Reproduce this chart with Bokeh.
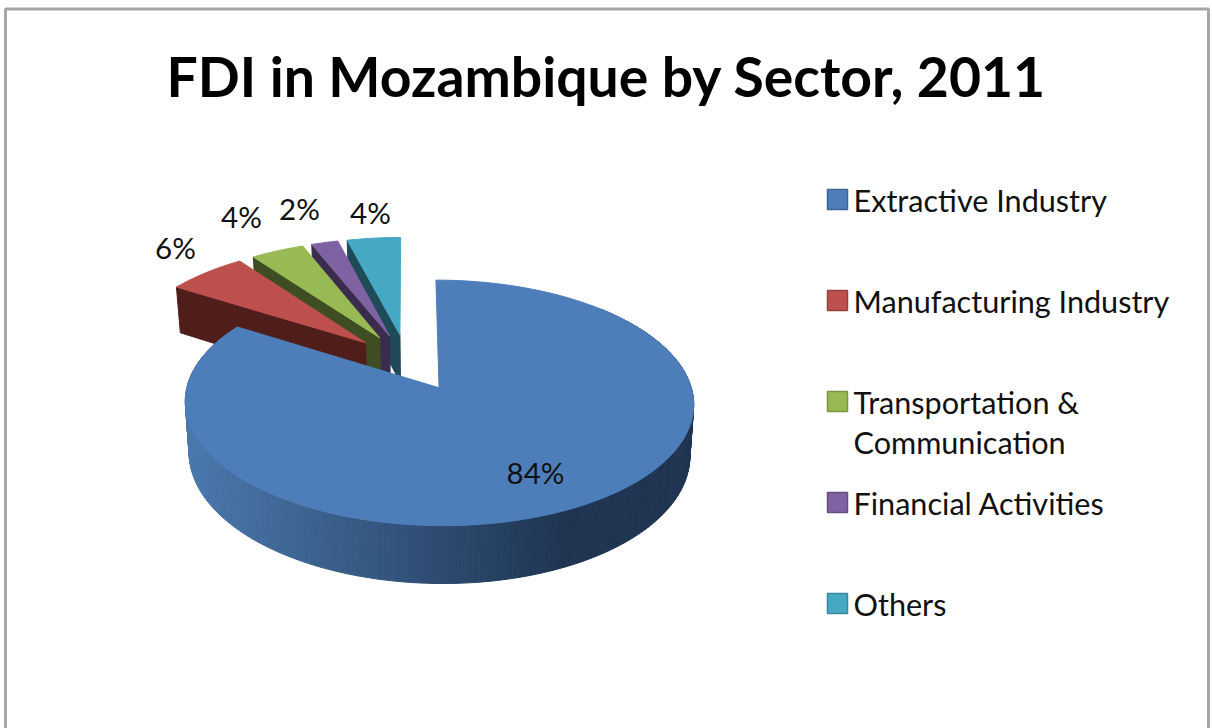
import math
from bokeh.plotting import figure
from bokeh.models import Range1d
from bokeh.embed import file_html
from bokeh.resources import INLINE
from bokeh.core.properties import value

TITLE = "FDI in Mozambique by Sector, 2011"
sectors = ["Extractive Industry", "Manufacturing Industry", "Transportation &\nCommunication",
           "Financial Activities", "Others"]
shares = [84, 6, 4, 2, 4]
top_colors = ["#4e7eba", "#bd504c", "#98ba55", "#7f62a2", "#47a8c4"]
face_colors = ["#1f3552", "#4f1e1b", "#3f4e22", "#392c4c", "#1f4a58"]

# layout (pixels of the page)
OX, OY, A, B, K = 410.0, 363.0, 246.0, 115.0, 0.12
EXPLODE, DEPTH, LOW_SCALE, LOW_CX = 0.235, 49.5, 0.985, 437.0
SMALL_DX, SMALL_DY = -3.5, -2.5
LABEL_XY = [(535, 472), (175, 247), (241, 216), (299, 208), (370, 212)]
LEGEND_X, LEGEND_TEXT_X, SWATCH = 837, 853, 20
LEGEND_Y = [199, 300, 401, 502, 603]
LEGEND_TEXT_Y = [[200], [301], [402], [503], [604]]
LEGEND_SECOND_LINE = 40


def top(u, v, dx=0.0, dy=0.0):
    w = 1 + K * v
    return OX + A * u / w + dx, OY - B * v / w + dy


def low(u, v, dx=0.0, dy=0.0):
    x, y = top(u, v, dx, dy)
    return LOW_CX + (x - LOW_CX) * LOW_SCALE, y + DEPTH / (1 + K * v)


def mix(c1, c2, t):
    a = [int(c1[i:i + 2], 16) for i in (1, 3, 5)]
    b = [int(c2[i:i + 2], 16) for i in (1, 3, 5)]
    return "#%02x%02x%02x" % tuple(round(p + (q - p) * t) for p, q in zip(a, b))


p = figure(width=1212, height=728, output_backend="svg", toolbar_location=None,
           x_range=Range1d(0, 1212), y_range=Range1d(728, 0), min_border=0,
           x_axis_location=None, y_axis_location=None,
           background_fill_color="white", border_fill_color="white")
p.xgrid.visible = False
p.ygrid.visible = False
p.outline_line_color = None

# frame
p.line([5, 5, 1208, 1208], [728, 8.5, 8.5, 728], line_color="#a6a6a6", line_width=3)

# slice geometry from the shares
total = sum(shares)
slices = []
start = 0.0
for i, s in enumerate(shares):
    end = start + s / total * 2 * math.pi
    mid = (start + end) / 2
    slices.append((i, start, end, EXPLODE * math.sin(mid), EXPLODE * math.cos(mid)))
    start = end


def arc_uv(s, a_from=None):
    i, a0, a1, tu, tv = s
    if a_from is not None:
        a0 = a_from
    n = max(3, int((a1 - a0) / 0.02))
    return [(tu + math.sin(a0 + (a1 - a0) * j / n), tv + math.cos(a0 + (a1 - a0) * j / n))
            for j in range(n + 1)]


# small slices, back to front
for s in reversed(slices[1:]):
    i, a0, a1, tu, tv = s
    pts = arc_uv(s)
    t0, t1 = top(tu, tv, SMALL_DX, SMALL_DY), top(*pts[0], SMALL_DX, SMALL_DY)
    l0, l1 = low(tu, tv, SMALL_DX, SMALL_DY), low(*pts[0], SMALL_DX, SMALL_DY)
    p.patch([t0[0], t1[0], l1[0], l0[0]], [t0[1], t1[1], l1[1], l0[1]],
            fill_color=face_colors[i], line_color=face_colors[i], line_width=1)
    xy = [t0] + [top(*q, SMALL_DX, SMALL_DY) for q in pts]
    p.patch([q[0] for q in xy], [q[1] for q in xy],
            fill_color=top_colors[i], line_color=top_colors[i], line_width=1)

# main slice: shaded outer wall (front part only), then its top
main = slices[0]
wall = arc_uv(main, a_from=math.pi / 4)
xs, ys, cols = [], [], []
for q0, q1 in zip(wall[:-1], wall[1:]):
    a, b, c, d = top(*q0), top(*q1), low(*q1), low(*q0)
    t = min(1.0, max(0.0, ((a[0] + b[0]) / 2 - 190) / 370))
    col = mix("#4a78ad", face_colors[0], t)
    xs.append([a[0], b[0], c[0], d[0]])
    ys.append([a[1], b[1], c[1], d[1]])
    cols.append(col)
p.patches(xs, ys, fill_color=cols, line_color=cols, line_width=1)
pts = arc_uv(main)
xy = [top(main[3], main[4])] + [top(*q) for q in pts]
p.patch([q[0] for q in xy], [q[1] for q in xy],
        fill_color=top_colors[0], line_color=top_colors[0], line_width=1)

# texts
font = value("Lato")
p.text([606], [75], text=[TITLE], text_font=font, text_font_size="55.3px", text_font_style="bold",
       text_align="center", text_baseline="middle", text_color="#000000")
p.text([q[0] for q in LABEL_XY], [q[1] for q in LABEL_XY], text=["%d%%" % s for s in shares],
       text_font=font, text_font_size="29.5px", text_align="center", text_baseline="middle",
       text_color="#111111")

# legend
p.rect([LEGEND_X] * 5, LEGEND_Y, SWATCH, SWATCH, fill_color=top_colors,
       line_color=[mix(c, "#000000", 0.2) for c in top_colors], line_width=1.5)
lx, ly, lt = [], [], []
for name, ypos in zip(sectors, LEGEND_TEXT_Y):
    for j, part in enumerate(name.split("\n")):
        lx.append(LEGEND_TEXT_X)
        ly.append(ypos[0] + j * LEGEND_SECOND_LINE)
        lt.append(part)
p.text(lx, ly, text=lt, text_font=font, text_font_size="30.6px", text_align="left",
       text_baseline="middle", text_color="#111111")

open("out.html", "w").write(file_html(p, INLINE))
